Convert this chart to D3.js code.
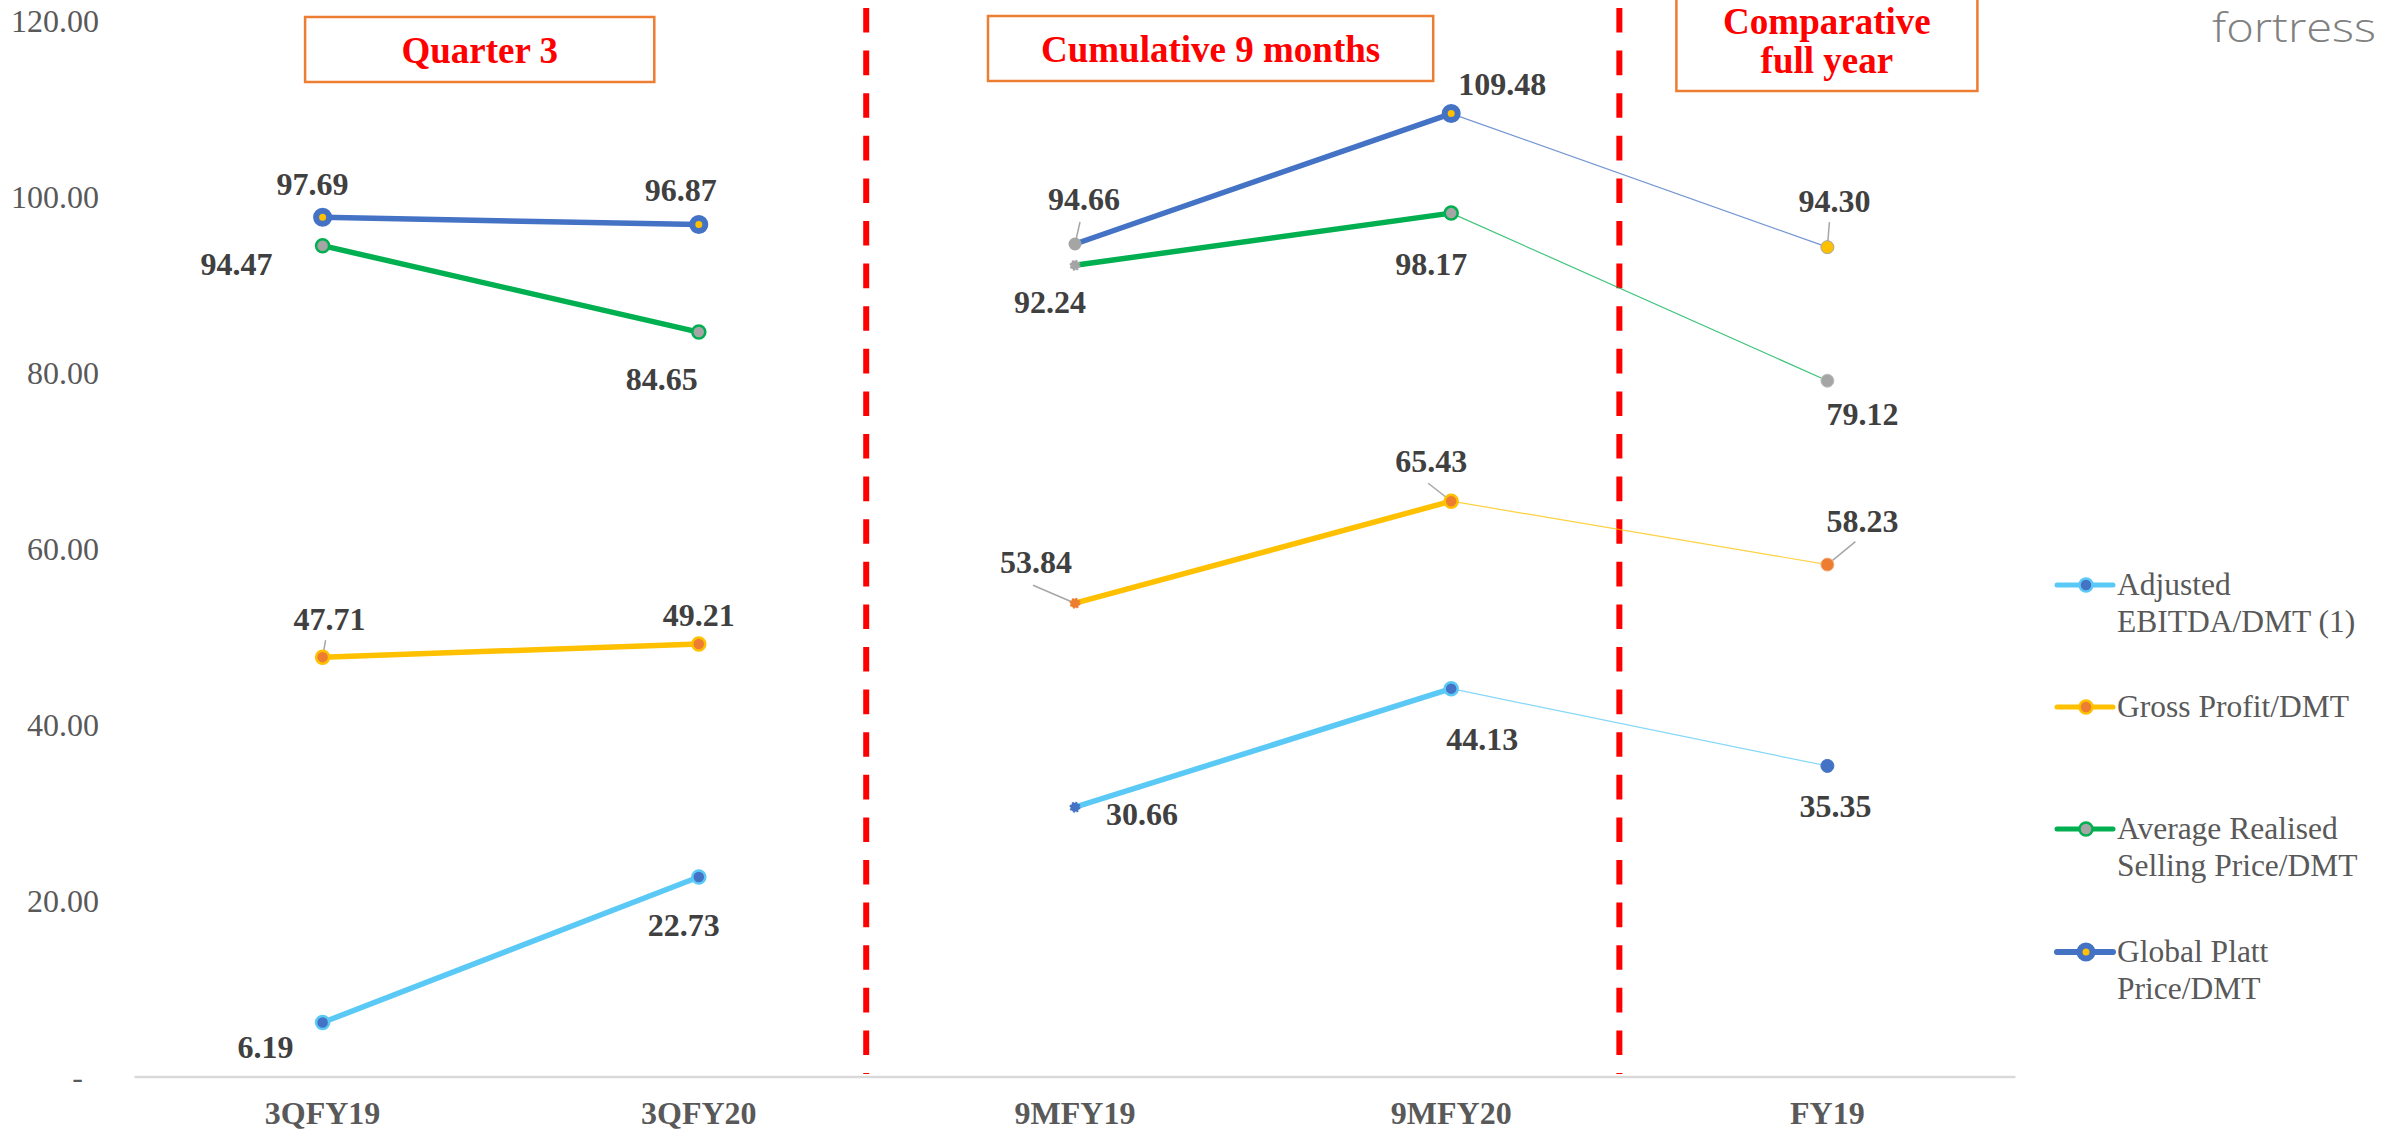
<!DOCTYPE html>
<html>
<head>
<meta charset="utf-8">
<script src="https://cdn.jsdelivr.net/npm/d3@7"></script>
<style>
  html, body { margin: 0; padding: 0; background: #fff; }
  svg { display: block; }
</style>
</head>
<body>
<div id="chart"></div>
<script>
// Chart data
const categories = ["3QFY19", "3QFY20", "9MFY19", "9MFY20", "FY19"];
const ebitdaPerDmt = [6.19, 22.73, 30.66, 44.13, 35.35];
const grossProfitPerDmt = [47.71, 49.21, 53.84, 65.43, 58.23];
const avgSellingPricePerDmt = [94.47, 84.65, 92.24, 98.17, 79.12];
const plattPricePerDmt = [97.69, 96.87, 94.66, 109.48, 94.30];
const yTicks = [0, 20, 40, 60, 80, 100, 120];
const legendLabels = [
  ["Adjusted", "EBITDA/DMT (1)"],
  ["Gross Profit/DMT"],
  ["Average Realised", "Selling Price/DMT"],
  ["Global Platt", "Price/DMT"]
];
const sectionTitles = [["Quarter 3"], ["Cumulative 9 months"], ["Comparative", "full year"]];

const width = 2386, height = 1130;
const margin = {left: 134.5, right: 370.5, top: 21, bottom: 53};
const SERIF = "'Liberation Serif', 'Times New Roman', serif";

// which pairs of points get joined, and how
const segments = [
  {from: 0, to: 1, w: 5.5, op: 1},
  {from: 2, to: 3, w: 5.5, op: 1},
  {from: 3, to: 4, w: 1.2, op: 0.75}
];

const series = [
  {values: ebitdaPerDmt, line: "#5BC9F5", fill: "#4472C4", ring: "#5BC9F5", ringW: 2.5, r: 6.5,
   labelOff: [[-57, 35], [-15, 59], [67, 18], [31, 61], [8, 51]], leaders: {}},
  {values: grossProfitPerDmt, line: "#FFC000", fill: "#ED7D31", ring: "#FFC000", ringW: 2.5, r: 6.5,
   labelOff: [[7, -27], [0, -18], [-39, -30], [-20, -29], [35, -33]],
   leaders: {0: [3, -17], 2: [-42, -18], 3: [-23, -18], 4: [28, -23]}},
  {values: avgSellingPricePerDmt, line: "#00B050", fill: "#A5A5A5", ring: "#00B050", ringW: 2.5, r: 6.5,
   labelOff: [[-86, 29], [-37, 58], [-25, 48], [-20, 62], [35, 44]], leaders: {}},
  {values: plattPricePerDmt, line: "#4472C4", fill: "#FFC000", ring: "#4472C4", ringW: 6, r: 6.5,
   labelOff: [[-10, -22], [-18, -24], [9, -34], [51, -19], [7, -35]],
   leaders: {2: [5, -22], 4: [2, -25]}}
];

// per-point marker overrides (9MFY19 and FY19 are styled differently)
function markerStyle(s, si, i) {
  const st = {r: s.r, fill: s.fill, stroke: s.ring, sw: s.ringW, dash: null};
  if (i === 2) {
    st.stroke = si === 3 ? "#A5A5A5" : s.fill;
    st.fill = si === 3 ? "#A5A5A5" : s.fill;
    st.r = si === 3 ? 5.5 : 4.5;
    st.sw = 2;
    st.dash = si === 3 ? null : "2,1.5";
  }
  if (i === 4) {
    st.r = 6.5;
    st.sw = 1;
    if (si === 0) { st.stroke = "#4472C4"; }
    if (si === 1) { st.stroke = "#F4B183"; }
    if (si === 2) { st.stroke = "#BFBFBF"; }
    if (si === 3) { st.fill = "#FFC000"; st.stroke = "#A5A5A5"; }
  }
  return st;
}

const svg = d3.select("#chart").append("svg")
  .attr("width", width)
  .attr("height", height);

svg.append("rect").attr("width", width).attr("height", height).attr("fill", "#fff");

const x = d3.scalePoint()
  .domain(categories)
  .range([margin.left, width - margin.right])
  .padding(0.5);
const step = x.step();

const y = d3.scaleLinear()
  .domain([0, 120])
  .range([height - margin.bottom, margin.top]);

// Y axis labels (no axis line)
const fmt = d3.format(".2f");
svg.append("g").selectAll("text")
  .data(yTicks)
  .enter().append("text")
    .attr("x", d => d === 0 ? 83 : 99)
    .attr("y", d => y(d))
    .attr("dy", "0.35em")
    .attr("text-anchor", "end")
    .attr("font-family", SERIF)
    .attr("font-size", 32)
    .attr("fill", "#595959")
    .text(d => d === 0 ? "-" : fmt(d));

// X axis line + labels
svg.append("line")
  .attr("x1", margin.left).attr("x2", width - margin.right)
  .attr("y1", y(0)).attr("y2", y(0))
  .attr("stroke", "#D9D9D9").attr("stroke-width", 2.5);

svg.append("g").selectAll("text")
  .data(categories)
  .enter().append("text")
    .attr("x", d => x(d))
    .attr("y", 1124)
    .attr("text-anchor", "middle")
    .attr("font-family", SERIF)
    .attr("font-weight", "bold")
    .attr("font-size", 32)
    .attr("fill", "#595959")
    .text(d => d);

// Red dashed section dividers
const dividerAt = [x(categories[1]) + 0.445 * step, x(categories[3]) + 0.447 * step];
svg.append("g").selectAll("line")
  .data(dividerAt)
  .enter().append("line")
    .attr("x1", d => d).attr("x2", d => d)
    .attr("y1", 8).attr("y2", y(0) - 3)
    .attr("stroke", "#FF0000")
    .attr("stroke-width", 6)
    .attr("stroke-dasharray", "24.6,18");

// Section title boxes
const boxes = [
  {x0: x(categories[0]) - 17.5, x1: x(categories[1]) - 44.5, y0: 17, y1: 82, base: 63},
  {x0: x(categories[2]) - 87, x1: x(categories[3]) - 18, y0: 16, y1: 81, base: 62},
  {x0: x(categories[4]) - 151, x1: x(categories[4]) + 150, y0: -6, y1: 91, base: 34}
];
const boxG = svg.append("g").selectAll("g")
  .data(boxes)
  .enter().append("g");
boxG.append("rect")
  .attr("x", d => d.x0).attr("y", d => d.y0)
  .attr("width", d => d.x1 - d.x0).attr("height", d => d.y1 - d.y0)
  .attr("fill", "#fff")
  .attr("stroke", "#ED7D31")
  .attr("stroke-width", 2.5);
boxG.each(function(d, i) {
  const t = d3.select(this).append("text")
    .attr("text-anchor", "middle")
    .attr("font-family", SERIF)
    .attr("font-weight", "bold")
    .attr("font-size", 37)
    .attr("fill", "#FF0000");
  sectionTitles[i].forEach((line, j) => {
    t.append("tspan")
      .attr("x", (d.x0 + d.x1) / 2)
      .attr("y", d.base + j * 39)
      .text(line);
  });
});

// Logo text, top right
svg.append("text")
  .attr("x", 2212).attr("y", 42)
  .attr("font-family", "'Open Sans', Lato, sans-serif")
  .attr("font-weight", 300)
  .attr("font-size", 40)
  .attr("fill", "#808080")
  .attr("textLength", 164)
  .attr("lengthAdjust", "spacingAndGlyphs")
  .text("fortress");

// Lines
const lineGen = d3.line().x(d => x(d.cat)).y(d => y(d.v));
const lineG = svg.append("g");
series.forEach(s => {
  segments.forEach(seg => {
    const pts = [seg.from, seg.to].map(i => ({cat: categories[i], v: s.values[i]}));
    lineG.append("path")
      .attr("d", lineGen(pts))
      .attr("fill", "none")
      .attr("stroke", s.line)
      .attr("stroke-width", seg.w)
      .attr("stroke-opacity", seg.op)
      .attr("stroke-linecap", "round");
  });
});

// Leader lines for some labels
const leadG = svg.append("g");
series.forEach(s => {
  Object.keys(s.leaders).forEach(k => {
    const i = +k, off = s.leaders[k];
    const px = x(categories[i]), py = y(s.values[i]);
    leadG.append("line")
      .attr("x1", px + off[0]).attr("y1", py + off[1])
      .attr("x2", px).attr("y2", py)
      .attr("stroke", "#A6A6A6")
      .attr("stroke-width", 1.5);
  });
});

// Markers
const markG = svg.append("g");
series.forEach((s, si) => {
  markG.selectAll(null)
    .data(s.values)
    .enter().append("circle")
      .each(function(v, i) {
        const st = markerStyle(s, si, i);
        d3.select(this)
          .attr("cx", x(categories[i]))
          .attr("cy", y(v))
          .attr("r", st.r)
          .attr("fill", st.fill)
          .attr("stroke", st.stroke)
          .attr("stroke-width", st.sw)
          .attr("stroke-dasharray", st.dash);
      });
});

// Data labels
const labG = svg.append("g");
series.forEach(s => {
  labG.selectAll(null)
    .data(s.values)
    .enter().append("text")
      .attr("x", (v, i) => x(categories[i]) + s.labelOff[i][0])
      .attr("y", (v, i) => y(v) + s.labelOff[i][1])
      .attr("text-anchor", "middle")
      .attr("font-family", SERIF)
      .attr("font-weight", "bold")
      .attr("font-size", 32)
      .attr("fill", "#404040")
      .text(v => fmt(v));
});

// Legend
const legendY = [585, 707, 829, 952];
const legG = svg.append("g");
series.forEach((s, si) => {
  const g = legG.append("g").attr("transform", `translate(2057,${legendY[si]})`);
  g.append("line")
    .attr("x1", 0).attr("x2", 56)
    .attr("stroke", s.line)
    .attr("stroke-width", si === 3 ? 6 : 5)
    .attr("stroke-linecap", "round");
  const st = markerStyle(s, si, 0);
  g.append("circle")
    .attr("cx", 29).attr("cy", 0)
    .attr("r", st.r)
    .attr("fill", st.fill)
    .attr("stroke", st.stroke)
    .attr("stroke-width", st.sw);
  const t = g.append("text")
    .attr("font-family", SERIF)
    .attr("font-size", 31.5)
    .attr("fill", "#595959");
  legendLabels[si].forEach((line, j) => {
    t.append("tspan")
      .attr("x", 60)
      .attr("y", 10 + j * 37)
      .text(line);
  });
});
</script>
</body>
</html>
